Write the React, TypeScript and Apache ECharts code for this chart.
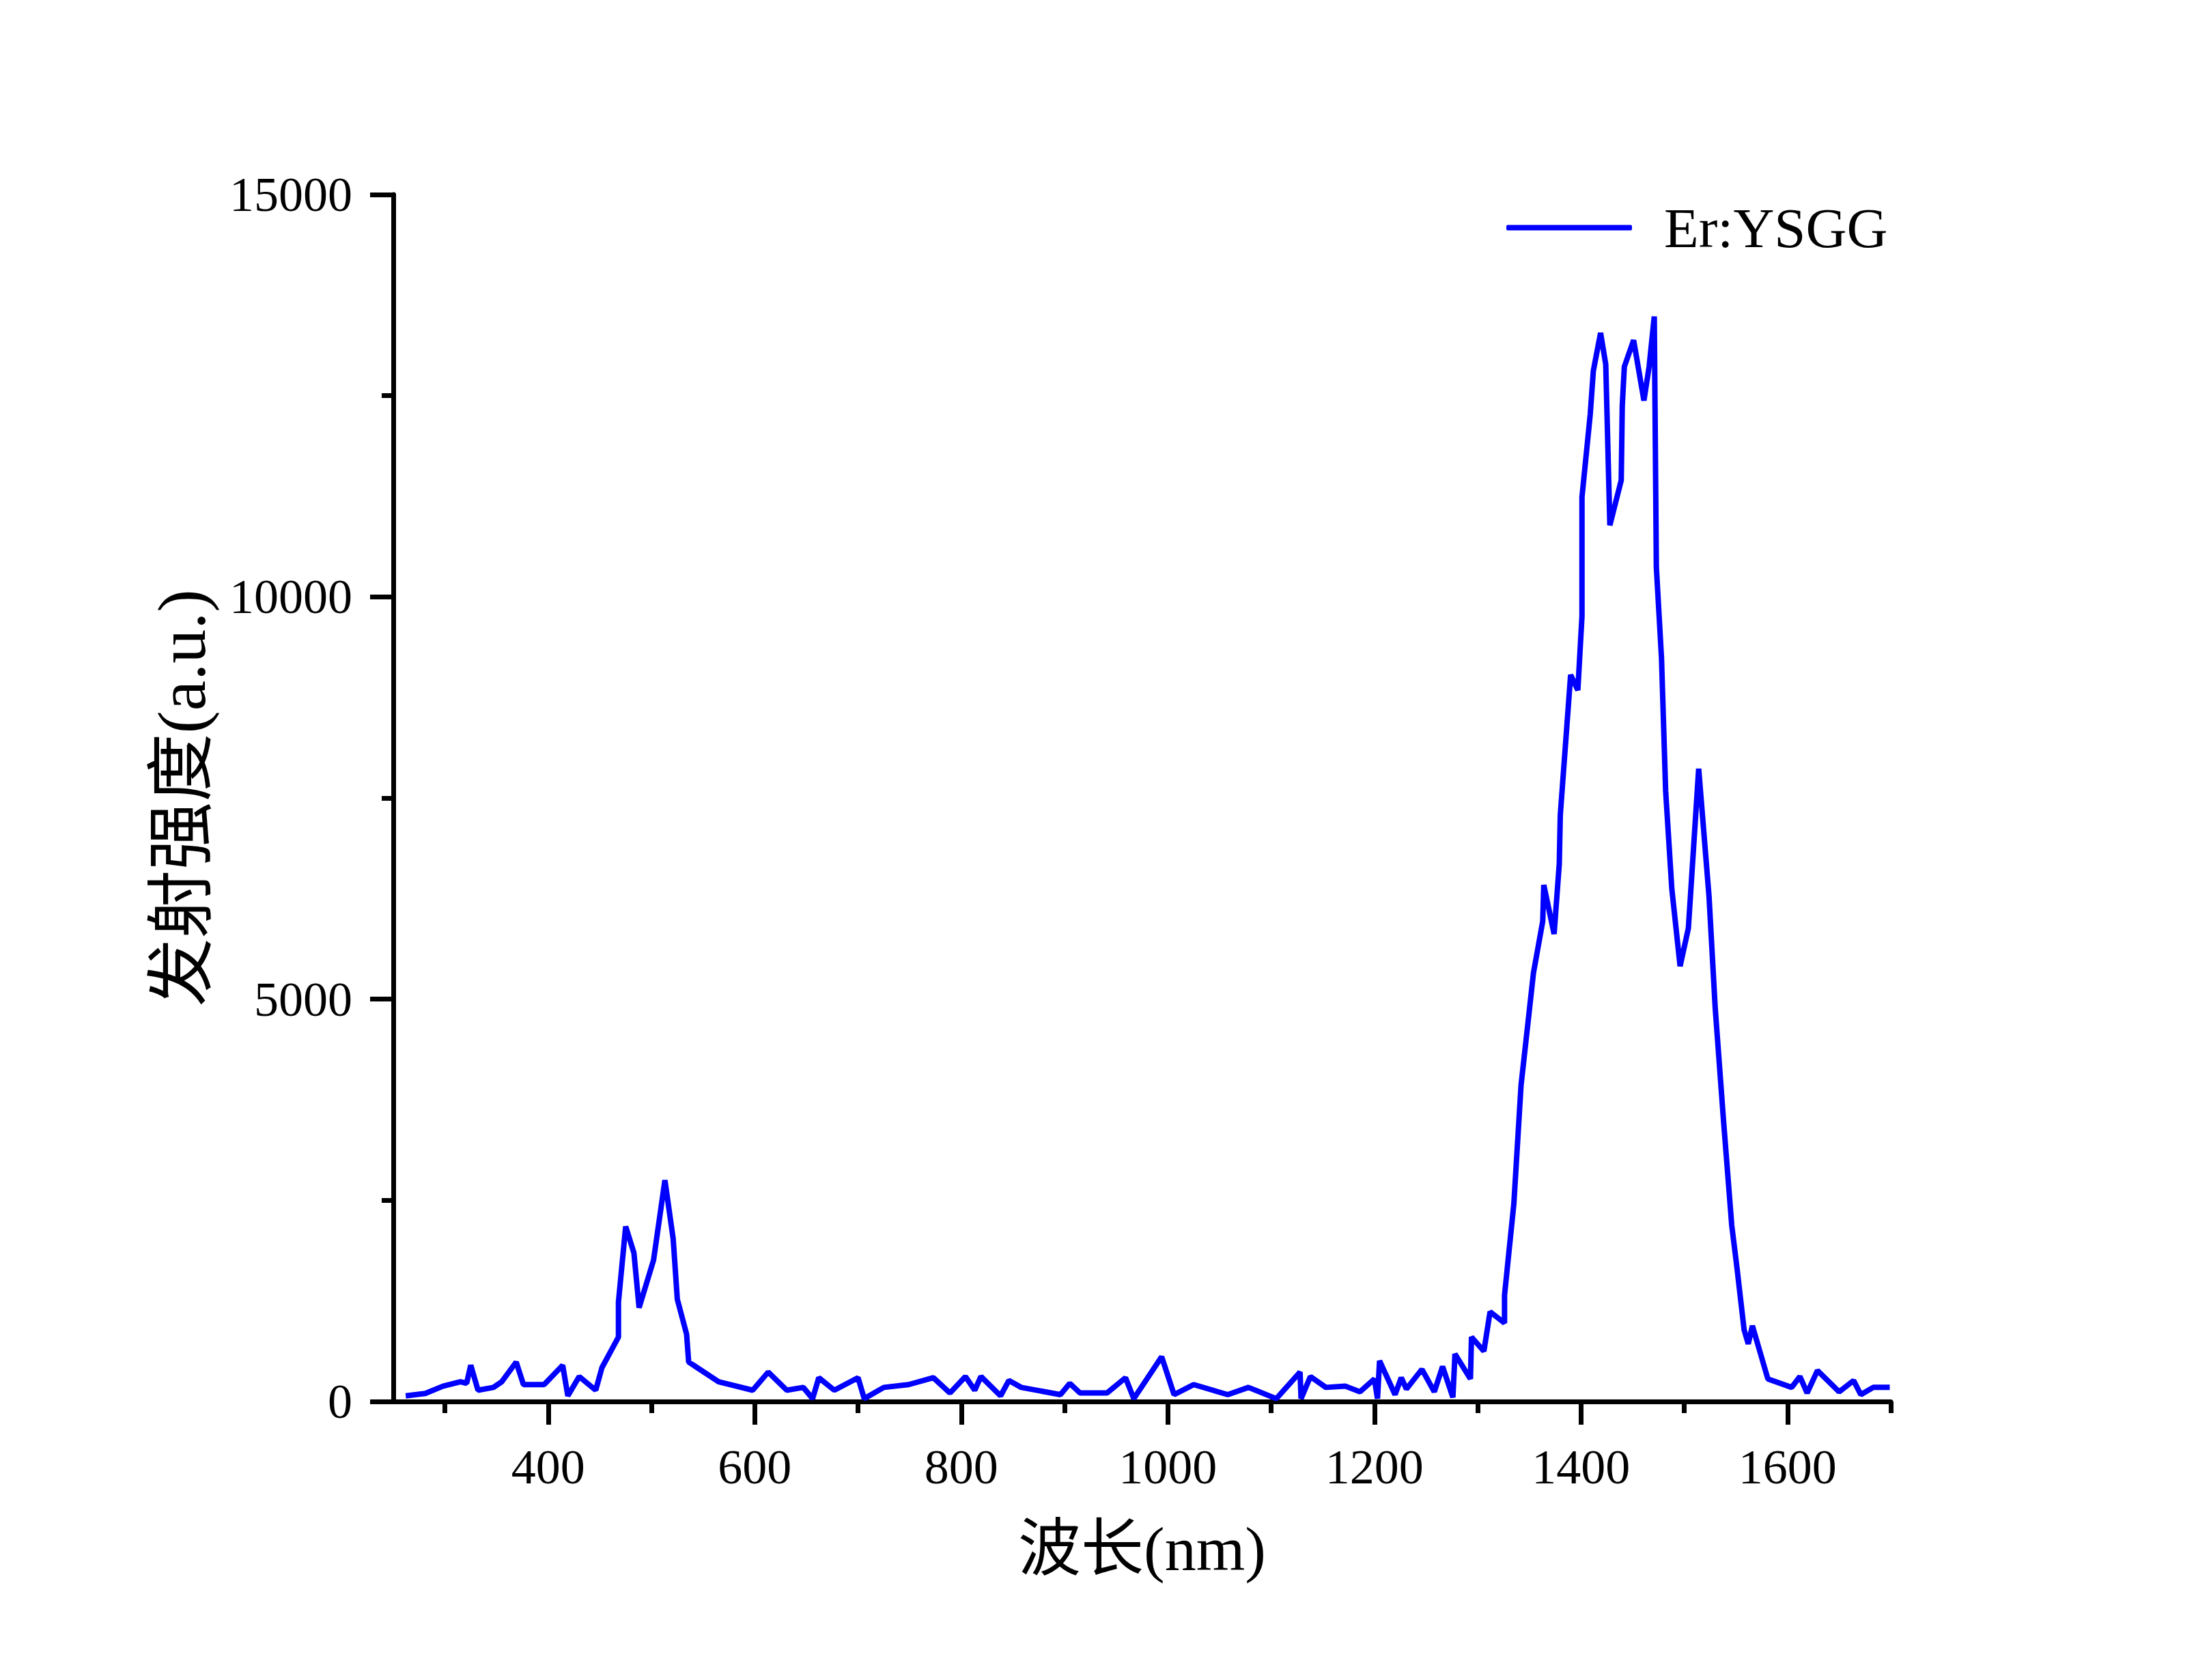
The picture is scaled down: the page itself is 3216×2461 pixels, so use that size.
import React, { useEffect, useRef } from "react";
import * as echarts from "echarts";

const seriesName = "Er:YSGG";
const xAxisTitle = "波长(nm)";
const yAxisTitle = "发射强度(a.u.)";

const wavelengths = [
  262, 281, 298, 315, 321, 325, 332, 347, 355, 369, 376, 396, 414, 419, 430, 446, 452, 468, 468, 475,
  483, 488, 502, 513, 521, 525, 534, 536, 565, 598, 613, 631, 647, 656, 662, 677, 700, 706, 725, 749,
  773, 789, 804, 813, 819, 838, 846, 858, 896, 905, 915, 941, 959, 967, 994, 1006, 1025, 1058, 1078, 1105,
  1128, 1129, 1138, 1153, 1172, 1186, 1200, 1203, 1205, 1220, 1226, 1231, 1246, 1258, 1266, 1276, 1278, 1293, 1294, 1306,
  1312, 1326, 1326, 1335, 1342, 1354, 1363, 1364, 1374, 1379, 1380, 1390, 1397, 1401, 1401, 1409, 1412, 1419, 1424, 1428,
  1439, 1440, 1442, 1451, 1461, 1466, 1471, 1473, 1478, 1482, 1488, 1496, 1504, 1514, 1524, 1530, 1538, 1546, 1551, 1558,
  1562, 1566, 1581, 1604, 1612, 1619, 1629, 1650, 1664, 1671, 1683, 1699,
];

const intensities = [
  70, 100, 190, 245, 225, 450, 140, 175, 245, 490, 210, 210, 450, 70, 310, 140, 420, 800, 1235, 2175,
  1845, 1165, 1757, 2750, 2020, 1270, 835, 490, 245, 140, 365, 140, 175, 35, 295, 140, 295, 35, 175, 210,
  295, 105, 310, 140, 310, 70, 260, 175, 85, 225, 105, 105, 295, 35, 555, 85, 210, 85, 175, 35,
  365, 35, 310, 175, 190, 120, 280, 35, 505, 85, 295, 155, 400, 120, 435, 50, 590, 280, 800, 625,
  1115, 975, 1320, 2455, 3930, 5325, 5970, 6420, 5810, 6680, 7290, 9030, 8840, 9760, 11240, 12270, 12810, 13280, 12890, 10890,
  11450, 12370, 12860, 13190, 12440, 12860, 13485, 10370, 9240, 7590, 6370, 5410, 5880, 7865, 6280, 4890, 3500, 2190, 1670, 890,
  715, 940, 280, 175, 310, 105, 385, 120, 260, 85, 175, 175,
];

const xMajorTicks = [400, 600, 800, 1000, 1200, 1400, 1600];
const xMinorTicks = [300, 500, 700, 900, 1100, 1300, 1500, 1700];

export default function App() {
  const ref = useRef<HTMLDivElement>(null);

  useEffect(() => {
    if (!ref.current) return;
    const chart = echarts.init(ref.current, undefined, { renderer: "svg" });
    const data = wavelengths.map((w, i) => [w, intensities[i]]);
    const latin = "'Liberation Serif', 'DejaVu Serif', serif";
    const mixed = "'Liberation Serif', 'Noto Sans CJK SC', serif";
    const axisStroke = { color: "#000", width: 7 };
    const plain = (v: number) => String(v);

    chart.setOption({
      animation: false,
      backgroundColor: "#fff",
      grid: { left: 576, right: 447, top: 285, bottom: 408, containLabel: false },
      legend: {
        show: true,
        left: 2201,
        top: 287,
        itemWidth: 184,
        itemHeight: 8,
        textStyle: { fontSize: 83, fontFamily: latin, color: "#000", padding: [0, 0, 0, 42] },
        data: [{ name: seriesName, icon: "roundRect", itemStyle: { color: "#0000ff" } }],
      },
      xAxis: [
        {
          type: "value",
          min: 250,
          max: 1700,
          name: xAxisTitle,
          nameLocation: "middle",
          nameGap: 170,
          nameTextStyle: { fontSize: 92, fontFamily: mixed, color: "#000" },
          axisLine: { show: true, lineStyle: axisStroke },
          axisTick: { show: true, length: 34, lineStyle: axisStroke, customValues: xMajorTicks },
          axisLabel: {
            show: true,
            customValues: xMajorTicks,
            formatter: plain,
            fontSize: 72,
            fontFamily: latin,
            color: "#000",
            margin: 60,
          },
          splitLine: { show: false },
        },
        {
          type: "value",
          min: 250,
          max: 1700,
          position: "bottom",
          axisLine: { show: false },
          axisTick: { show: true, length: 17, lineStyle: axisStroke, customValues: xMinorTicks },
          axisLabel: { show: false },
          splitLine: { show: false },
        },
      ],
      yAxis: {
        type: "value",
        min: 0,
        max: 15000,
        interval: 5000,
        name: yAxisTitle,
        nameLocation: "middle",
        nameGap: 260,
        nameRotate: 90,
        nameTextStyle: { fontSize: 100, fontFamily: mixed, color: "#000" },
        axisLine: { show: true, lineStyle: axisStroke },
        axisTick: { show: true, length: 34, lineStyle: axisStroke },
        minorTick: { show: true, splitNumber: 2, length: 17, lineStyle: axisStroke },
        axisLabel: { fontSize: 72, fontFamily: latin, color: "#000", margin: 60, formatter: plain },
        splitLine: { show: false },
        minorSplitLine: { show: false },
      },
      series: [
        {
          name: seriesName,
          type: "line",
          xAxisIndex: 0,
          data,
          symbol: "none",
          showSymbol: false,
          lineStyle: { color: "#0000ff", width: 8 },
          itemStyle: { color: "#0000ff" },
        },
      ],
    });

    return () => chart.dispose();
  }, []);

  return (
    <div
      ref={ref}
      style={{ position: "fixed", left: 0, top: 0, width: 3216, height: 2461, background: "#fff" }}
    />
  );
}
